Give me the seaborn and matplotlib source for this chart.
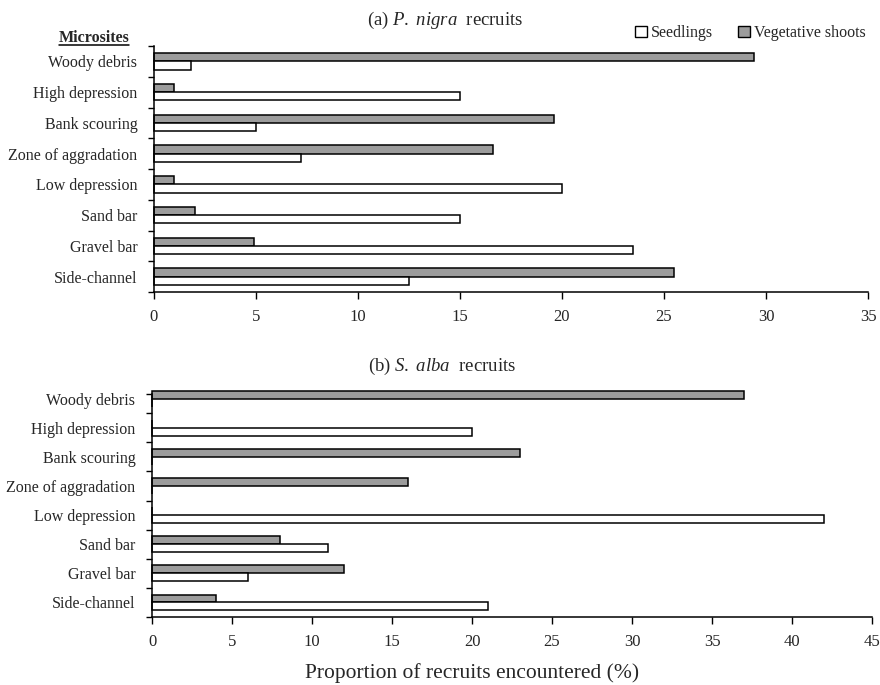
import matplotlib
matplotlib.use("Agg")
import matplotlib.pyplot as plt
from matplotlib.patches import Patch
from matplotlib.lines import Line2D
import seaborn as sns
import pandas as pd
import numpy as np

# ---------------- data ----------------
sites = ["Woody debris", "High depression", "Bank scouring", "Zone of aggradation",
         "Low depression", "Sand bar", "Gravel bar", "Side-channel"]
nigra_seedlings = [1.8, 15.0, 5.0, 7.2, 20.0, 15.0, 23.5, 12.5]
nigra_vegetative = [29.4, 1.0, 19.6, 16.6, 1.0, 2.0, 4.9, 25.5]
alba_seedlings = [0.0, 20.0, 0.0, 0.0, 42.0, 11.0, 6.0, 21.0]
alba_vegetative = [37.0, 0.0, 23.0, 16.0, 0.0, 8.0, 12.0, 4.0]
xticks_a = [0, 5, 10, 15, 20, 25, 30, 35]
xticks_b = [0, 5, 10, 15, 20, 25, 30, 35, 40, 45]
hue_levels = ["Vegetative shoots", "Seedlings"]
legend_order = ["Seedlings", "Vegetative shoots"]

def long_df(seed, veg):
    return pd.DataFrame({
        "site": sites * 2,
        "value": list(veg) + list(seed),
        "type": ["Vegetative shoots"] * len(sites) + ["Seedlings"] * len(sites),
    })

df_a = long_df(nigra_seedlings, nigra_vegetative)
df_b = long_df(alba_seedlings, alba_vegetative)

# ---------------- style ----------------
sns.set_style("white")
plt.rcParams["font.family"] = ["Liberation Serif", "DejaVu Serif"]
plt.rcParams["mathtext.fontset"] = "custom"
plt.rcParams["mathtext.rm"] = "Liberation Serif"
plt.rcParams["mathtext.it"] = "Liberation Serif:italic"
plt.rcParams["mathtext.bf"] = "Liberation Serif:bold"

colors = {"Vegetative shoots": "#9c9c9c", "Seedlings": "#ffffff"}

W, H = 880, 685
fig = plt.figure(figsize=(W / 100, H / 100), dpi=100)

def fr(x0, y0, x1, y1):
    return [x0 / W, 1 - y1 / H, (x1 - x0) / W, (y1 - y0) / H]

ax_a = fig.add_axes(fr(154, 46, 868, 292))
ax_b = fig.add_axes(fr(152, 394, 872, 617))

def draw(ax, df, xmax, xticks, ytop):
    sns.barplot(data=df, y="site", x="value", hue="type", hue_order=hue_levels,
                order=sites, orient="h", palette=colors, width=0.54, gap=0,
                edgecolor="black", linewidth=1.1, errorbar=None, legend=False,
                ax=ax, saturation=1)
    for p in ax.patches:
        p.set_clip_on(False)
    ax.set_xlim(0, xmax)
    ax.set_ylim(len(sites) - 0.5, ytop)
    ax.set_xticks(xticks)
    ax.set_xticklabels([str(t) for t in xticks], fontsize=12)
    ax.set_xlabel("")
    ax.set_ylabel("")
    # category labels at centres, ticks at boundaries
    ax.set_yticks(range(len(sites)))
    ax.set_yticklabels(sites, fontsize=11.5)
    ax.tick_params(axis="y", which="major", length=0, pad=12)
    bounds = [ytop] + [i + 0.5 for i in range(len(sites))]
    ax.set_yticks(bounds, minor=True)
    ax.tick_params(axis="y", which="minor", length=4, width=1, direction="out",
                   color="black", left=True)
    ax.tick_params(axis="x", which="major", length=5, width=1, direction="out",
                   color="black", bottom=True, pad=7)
    for s in ["top", "right"]:
        ax.spines[s].set_visible(False)
    for s in ["left", "bottom"]:
        ax.spines[s].set_color("black")
        ax.spines[s].set_linewidth(1.1)
    ax.grid(False)

draw(ax_a, df_a, 35, xticks_a, -0.5)
draw(ax_b, df_b, 45, xticks_b, -0.16)

# titles
fig.text(445 / W, 1 - 20 / H, r"(a) $P.\ nigra$  recruits", ha="center", va="center",
         fontsize=13.5)
fig.text(442 / W, 1 - 366 / H, r"(b) $S.\ alba$  recruits", ha="center", va="center",
         fontsize=13.5)

# x label
fig.text(472 / W, 1 - 673 / H, "Proportion of recruits encountered (%)",
         ha="center", va="center", fontsize=15.5)

# Microsites header, bold + underline
t = fig.text(94 / W, 1 - 38 / H, "Microsites", ha="center", va="center",
             fontsize=11.5, fontweight="bold")
fig.canvas.draw()
bb = t.get_window_extent().transformed(fig.transFigure.inverted())
fig.add_artist(Line2D([bb.x0, bb.x1], [bb.y0 + 0.001, bb.y0 + 0.001],
                      transform=fig.transFigure, color="black", lw=1.1))

# legend
handles = [Patch(facecolor=colors[k], edgecolor="black", linewidth=1.0, label=k)
           for k in legend_order]
fig.legend(handles=handles, loc="center right", bbox_to_anchor=(866 / W, 1 - 33 / H),
           ncol=2, frameon=False, fontsize=11.5, handlelength=0.75, handleheight=0.75,
           handletextpad=0.25, columnspacing=1.6, borderaxespad=0, borderpad=0)

fig.savefig("out.png", dpi=100)
